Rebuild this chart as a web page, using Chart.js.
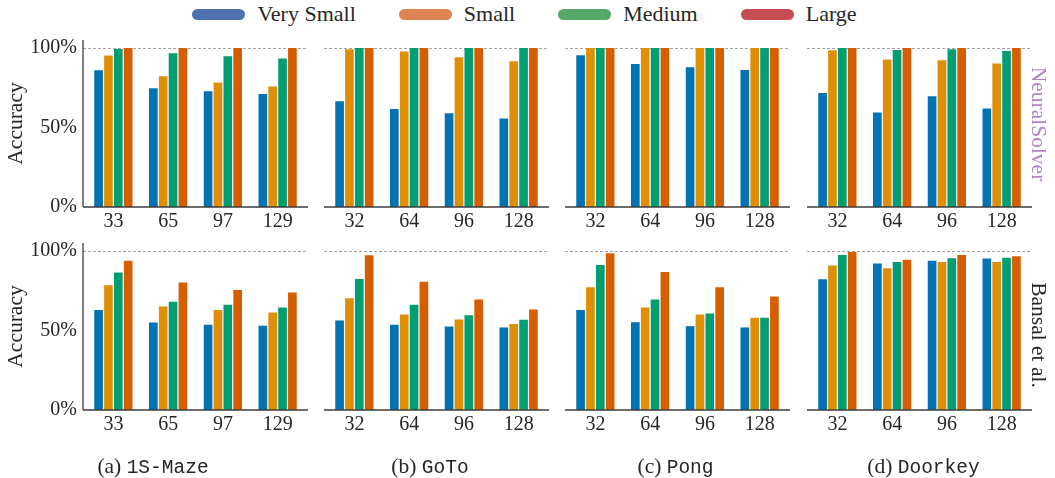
<!DOCTYPE html>
<html>
<head>
<meta charset="utf-8">
<script src="https://cdn.jsdelivr.net/npm/chart.js@4.4.1/dist/chart.umd.min.js"></script>
<style>
  body { margin: 0; background: #fff; width: 1055px; height: 478px; overflow: hidden; position: relative;
         font-family: "Liberation Serif", "Times New Roman", serif; color: #262626; }
  canvas { position: absolute; }
  #legend { position: absolute; top: 3px; left: 0; width: 1049px; height: 22px; display: flex;
            justify-content: center; align-items: center; gap: 43px; font-size: 22px; }
  #legend .item { display: flex; align-items: center; }
  #legend .pill { width: 53px; height: 11px; border-radius: 6px; margin-right: 12px; }
  .caption { position: absolute; top: 453px; font-size: 21.5px; line-height: 26px; transform: translateX(-50%); white-space: nowrap; }
  .caption .mono { font-family: "Liberation Mono", "DejaVu Sans Mono", monospace; font-size: 19.5px; }
  .rowlabel { position: absolute; writing-mode: vertical-rl; font-size: 21.5px; line-height: 24px; transform: translateY(-50%); white-space: nowrap; }
</style>
</head>
<body>
<div id="legend"></div>

<script>
//Categories (grid / maze sizes) for each environment
const mazeSizes = ['33', '65', '97', '129'];
const gridSizes = ['32', '64', '96', '128'];
const modelNames = ['Very Small', 'Small', 'Medium', 'Large'];
const yTickValues = [0, 50, 100];

//Environment captions: [prefix, code name]
const envPrefixes = ['(a)', '(b)', '(c)', '(d)'];
const envNames = ['1S-Maze', 'GoTo', 'Pong', 'Doorkey'];
const rowNames = ['NeuralSolver', 'Bansal et al.'];

//NeuralSolver accuracy (%), rows = Very Small, Small, Medium, Large
const nsMaze = [
  [86.0, 74.6, 72.8, 71.1],
  [95.2, 82.2, 78.2, 75.7],
  [99.4, 96.7, 94.8, 93.3],
  [100, 100, 100, 100]
];
const nsGoTo = [
  [66.5, 61.6, 58.9, 55.6],
  [99.2, 97.7, 94.2, 91.6],
  [100, 100, 100, 100],
  [100, 100, 100, 100]
];
const nsPong = [
  [95.4, 89.9, 87.9, 86.2],
  [100, 100, 100, 100],
  [100, 100, 100, 100],
  [100, 100, 100, 100]
];
const nsDoorkey = [
  [71.7, 59.4, 69.6, 61.9],
  [98.6, 92.7, 92.3, 90.2],
  [100, 98.7, 99.2, 98.1],
  [100, 100, 100, 100]
];

//Bansal et al. accuracy (%)
const bsMaze = [
  [62.8, 55.0, 53.6, 53.0],
  [78.4, 65.1, 62.8, 61.3],
  [86.4, 68.1, 66.2, 64.5],
  [93.9, 80.1, 75.4, 73.8]
];
const bsGoTo = [
  [56.3, 53.6, 52.5, 51.9],
  [70.2, 60.1, 56.9, 54.1],
  [82.3, 66.2, 59.6, 56.8],
  [97.3, 80.7, 69.4, 63.2]
];
const bsPong = [
  [62.8, 55.2, 52.7, 51.9],
  [77.1, 64.5, 60.1, 58.0],
  [91.2, 69.4, 60.7, 58.0],
  [98.5, 86.8, 77.1, 71.4]
];
const bsDoorkey = [
  [82.2, 92.1, 93.9, 95.2],
  [90.8, 89.1, 93.1, 93.1],
  [97.5, 93.1, 95.4, 95.8],
  [99.4, 94.4, 97.5, 96.6]
];

//Colours: bars use the colorblind palette, legend uses the deep palette
const barColors = ['#0173b2', '#de8f05', '#029e73', '#d55e00'];
const legendColors = ['#4c72b0', '#dd8452', '#55a868', '#c44e52'];
const textColor = '#262626';

//Layout (pixels)
const areaLefts = [86, 327, 568, 810];
const areaWidth = 219;
const areaTops = [40, 243];
const areaHeight = 167;
//padT must exceed half a tick label + tick padding, or Chart.js pushes the area down
const padL = 5, padR = 6, padT = 26, xAxisH = 30, yAxisW = 86;

//Spines and the dashed 100% line
const axisLines = {
  id: 'axisLines',
  beforeDatasetsDraw(chart) {
    const { ctx, chartArea: a, scales: { y } } = chart;
    const y100 = Math.round(y.getPixelForValue(100)) + 0.5;
    ctx.save();
    ctx.strokeStyle = '#a3a3a3';
    ctx.lineWidth = 1;
    ctx.setLineDash([3, 2]);
    ctx.beginPath();
    ctx.moveTo(a.left - 3, y100);
    ctx.lineTo(a.right + 3, y100);
    ctx.stroke();
    ctx.restore();
  },
  afterDatasetsDraw(chart, args, opts) {
    const { ctx, chartArea: a, scales: { y } } = chart;
    const y0 = y.getPixelForValue(0);
    ctx.save();
    ctx.strokeStyle = '#3c3c3c';
    ctx.lineWidth = 1.3;
    ctx.beginPath();
    ctx.moveTo(a.left - 3, y0);
    ctx.lineTo(a.right + 3, y0);
    if (opts.leftSpine) {
      ctx.moveTo(a.left - 3, y0);
      ctx.lineTo(a.left - 3, a.top);
    }
    ctx.stroke();
    ctx.restore();
  }
};

function makePanel(row, col, labels, series) {
  const showY = col === 0;
  const canvas = document.createElement('canvas');
  const left = showY ? 0 : areaLefts[col] - padL;
  const width = areaLefts[col] + areaWidth + padR - left;
  const top = areaTops[row] - padT;
  const height = padT + areaHeight + xAxisH;
  canvas.width = width;
  canvas.height = height;
  canvas.style.left = left + 'px';
  canvas.style.top = top + 'px';
  canvas.style.width = width + 'px';
  canvas.style.height = height + 'px';
  document.body.appendChild(canvas);

  const tickFont = { family: 'Liberation Serif', size: 20 };
  new Chart(canvas, {
    type: 'bar',
    data: {
      labels: labels,
      datasets: series.map((vals, k) => ({
        label: modelNames[k],
        data: vals,
        backgroundColor: barColors[k],
        borderWidth: 0,
        categoryPercentage: 0.72,
        barPercentage: 0.88
      }))
    },
    options: {
      responsive: false,
      animation: false,
      devicePixelRatio: 1,
      layout: { padding: { left: showY ? 0 : padL, right: padR, top: padT, bottom: 0 } },
      plugins: {
        legend: { display: false },
        tooltip: { enabled: false },
        axisLines: { leftSpine: showY }
      },
      scales: {
        x: {
          grid: { display: false, drawTicks: false },
          border: { display: false },
          ticks: { font: tickFont, color: textColor, padding: 3, maxRotation: 0 },
          afterFit(s) { s.height = xAxisH; }
        },
        y: {
          display: showY,
          min: 0,
          max: 105,
          afterBuildTicks(s) { s.ticks = yTickValues.map(v => ({ value: v })); },
          grid: { display: false, drawTicks: false },
          border: { display: false },
          ticks: { font: tickFont, color: textColor, padding: 9, callback: v => v + '%' },
          title: {
            display: true, text: 'Accuracy', color: textColor,
            font: { family: 'Liberation Serif', size: 21.5 }, padding: { top: 3, bottom: 0 }
          },
          afterFit: showY ? (s) => { s.width = yAxisW; } : undefined
        }
      }
    },
    plugins: [axisLines]
  });
}

//Legend
const legendDiv = document.getElementById('legend');
modelNames.forEach((name, k) => {
  const item = document.createElement('div');
  item.className = 'item';
  item.innerHTML = '<span class="pill" style="background:' + legendColors[k] + '"></span><span>' + name + '</span>';
  legendDiv.appendChild(item);
});

//Panels
const topRow = [nsMaze, nsGoTo, nsPong, nsDoorkey];
const bottomRow = [bsMaze, bsGoTo, bsPong, bsDoorkey];
for (let c = 0; c < 4; c++) {
  const labels = c === 0 ? mazeSizes : gridSizes;
  makePanel(0, c, labels, topRow[c]);
  makePanel(1, c, labels, bottomRow[c]);
}

//Captions under each column
const captionCenters = [153, 430, 675.5, 923.5];
envNames.forEach((name, c) => {
  const cap = document.createElement('div');
  cap.className = 'caption';
  cap.style.left = captionCenters[c] + 'px';
  cap.innerHTML = envPrefixes[c] + ' <span class="mono">' + name + '</span>';
  document.body.appendChild(cap);
});

//Row labels on the right
const rowCenters = [124, 335];
const rowColors = ['#b283c8', textColor];
rowNames.forEach((name, r) => {
  const lab = document.createElement('div');
  lab.className = 'rowlabel';
  lab.style.left = '1027px';
  lab.style.top = rowCenters[r] + 'px';
  lab.style.color = rowColors[r];
  lab.textContent = name;
  document.body.appendChild(lab);
});
</script>
</body>
</html>
